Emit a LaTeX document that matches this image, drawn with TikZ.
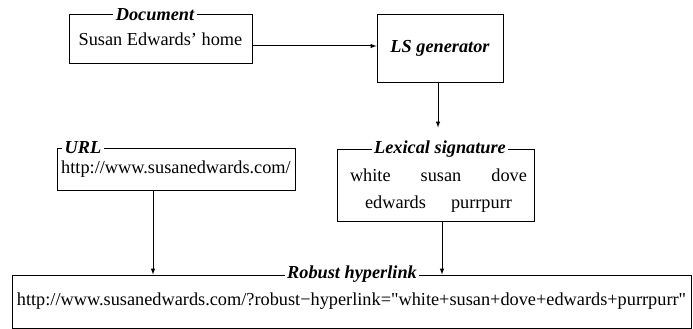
\documentclass[tikz,border=0pt]{standalone}
\usepackage{fontspec}
\setmainfont{Liberation Serif}
\newfontfamily\plainfont{Liberation Serif}
\usetikzlibrary{arrows,positioning}
\tikzstyle{frame} = [draw, line width=1pt, inner sep=0pt,
    font=\fontsize{18.3}{22}\selectfont]
\tikzstyle{heading} = [fill=white, inner sep=2.5pt,
    font=\fontsize{18.3}{22}\selectfont\bfseries\itshape]
\tikzstyle{link} = [-latex, line width=1pt]

\begin{document}
\begin{tikzpicture}[x=1pt, y=-1pt]
  \useasboundingbox (0,0) rectangle (693,329);
  % boxes
  \node [frame, minimum width=183pt, minimum height=49pt] (doc) at (160.5,39.5) {Susan Edwards' home};
  \node [frame, minimum width=126pt, minimum height=67pt] (lsgen) at (440,48.5) {\bfseries\itshape LS generator};
  \node [frame, minimum width=238pt, minimum height=42pt] (url) at (176,169) {http://www.susanedwards.com/};
  \node [frame, minimum width=197pt, minimum height=72pt] (lexsig) at (435.5,185) {};
  \node [font=\fontsize{18.3}{27}\selectfont, align=center, inner sep=0pt] (lexwords) at (438.5,191)
    {\makebox[177pt]{white\hfill susan\hfill dove}\\edwards\hspace{25pt}purrpurr};
  \node [frame, minimum width=679pt, minimum height=53pt] (robust) at (351.5,301.5)
    {\plainfont http://www.susanedwards.com/?robust−hyperlink="white+susan+dove+edwards+purrpurr"};
  % titles on the frames
  \node [heading] (doctitle) at (155,15) {Document};
  \node [heading, anchor=west] (urltitle) at (62,148) {URL};
  \node [heading] (lextitle) at (440,149) {Lexical signature};
  \node [heading] (robusttitle) at (352,274) {Robust hyperlink};
  % arrows
  \draw [link] ([yshift=-6.5pt]doc.east) -- ([yshift=-6.5pt]doc.east -| lsgen.west);
  \draw [link, shorten >=21pt] ([xshift=-2pt]lsgen.south) -- ([xshift=-2pt]lsgen.south |- lexsig.north);
  \draw [link] ([xshift=-23pt]url.south) -- ([xshift=-23pt]url.south |- robust.north);
  \draw [link] ([xshift=6.5pt]lexsig.south) -- ([xshift=6.5pt]lexsig.south |- robust.north);
\end{tikzpicture}
\end{document}
